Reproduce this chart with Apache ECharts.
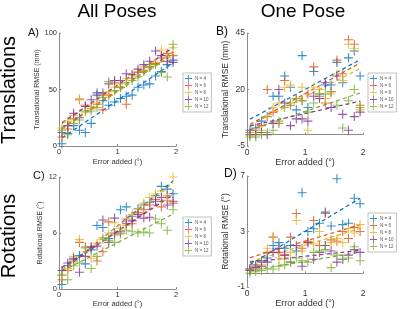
<!DOCTYPE html>
<html><head><meta charset="utf-8">
<script src="https://cdn.jsdelivr.net/npm/echarts@6/dist/echarts.min.js"></script>
<style>html,body{margin:0;padding:0;background:#fff}#c{width:400px;height:309px}</style>
</head><body><div id="c"></div>
<script>
var errorAdded = [0.05,0.15,0.25,0.35,0.45,0.55,0.65,0.75,0.85,0.95,1.05,1.15,1.25,1.35,1.45,1.55,1.65,1.75,1.85,1.95];
var seriesNames = ['N = 4','N = 6','N = 8','N = 10','N = 12'];
var colors = ['#0072BD','#D95319','#EDB120','#7E2F8E','#77AC30'];

// A) All poses, translational RMSE (mm)
var transAll_N4  = [2, 11, 18, 14, 12, 20, 47, 40, 36, 39, 42, 44, 45, 52, 54, 55, 62, 66, 72, 76];
var transAll_N6  = [8, 15, 24, 41, 36, 33, 37, 32, 45, 56, 52, 37, 60, 65, 67, 70, 73, 78, 82, 80];
var transAll_N8  = [16, 22, 27, 42, 30, 35, 38, 45, 48, 52, 55, 60, 63, 66, 70, 72, 74, 85, 78, 87];
var transAll_N10 = [12, 18, 29, 25, 35, 41, 45, 47, 55, 58, 58, 64, 63, 68, 72, 75, 84, 80, 75, 74];
var transAll_N12 = [14, 10, 20, 23, 31, 31, 34, 43, 57, 49, 52, 56, 58, 61, 66, 70, 72, 65, 61, 90];

// B) One pose, translational RMSE (mm)
var transOne_N4  = [2, 3, 6, 8, 17, 17, 26, 21, 11, 35, 12, 28, 18, 22, 22, 32, 23, 34, 37, 26];
var transOne_N6  = [1, 2, 4, 20, 10, 5, 24, 13, 16, 15, 18, 30, 17, 14, 19, 33, 27, 42, 40, 13];
var transOne_N8  = [0, 1, 2, 8, 12, 14, 21, 22, 16, 21, 2, 21, 20, 16, 18, 27, 24, 40, 38, 11];
var transOne_N10 = [0, 0, 1, 0, 5, 20, 14, 4, 7, 7, 6, 17, 16, 23, 12, 26, 9, 2, 8, 10];
var transOne_N12 = [-1, -1, 0, 1, 2, 6, 12, 14, 16, 15, 10, 14, 18, 18, 19, 13, 3, 15, 20, 12];

// C) All poses, rotational RMSE (deg)
var rotAll_N4  = [0.5, 2.5, 3.2, 3.6, 2.7, 4.2, 6.8, 6.6, 5.4, 6.0, 8.5, 8.8, 7.8, 8.6, 9.0, 9.3, 10.0, 11.0, 10.7, 10.2];
var rotAll_N6  = [1.0, 2.0, 3.0, 5.0, 4.5, 4.5, 3.0, 4.0, 7.2, 5.8, 6.0, 7.5, 7.0, 8.2, 8.5, 9.0, 9.6, 8.8, 10.0, 9.2];
var rotAll_N8  = [1.5, 2.2, 3.5, 5.3, 4.0, 3.3, 4.9, 5.3, 6.0, 7.1, 6.5, 6.8, 8.0, 8.6, 9.2, 9.8, 10.2, 10.5, 9.5, 12.0];
var rotAll_N10 = [2.0, 2.8, 3.3, 1.8, 3.5, 4.5, 4.6, 7.4, 5.0, 7.6, 6.2, 7.0, 7.3, 8.0, 7.6, 7.7, 9.4, 9.8, 9.0, 9.4];
var rotAll_N12 = [1.5, 1.0, 2.5, 2.8, 4.4, 2.2, 3.5, 5.5, 5.2, 5.0, 5.9, 6.3, 6.2, 6.0, 6.1, 6.0, 7.5, 7.0, 6.3, 8.5];

// D) One pose, rotational RMSE (deg)
var rotOne_N4  = [0.3, 0.6, 0.9, 1.1, 2.0, 2.2, 1.8, 2.0, 1.6, 5.8, 3.0, 3.2, 3.6, 4.4, 3.4, 6.8, 3.5, 3.6, 5.4, 5.0];
var rotOne_N6  = [0.3, 0.5, 0.8, 1.5, 2.6, 1.5, 1.3, 2.6, 4.3, 1.8, 2.3, 3.8, 2.0, 4.3, 2.4, 2.3, 3.0, 2.5, 3.3, 3.0];
var rotOne_N8  = [0.2, 0.4, 0.6, 1.8, 2.6, 1.1, 1.0, 1.5, 3.8, 1.6, 2.2, 2.1, 3.0, 2.0, 2.2, 2.5, 2.2, 3.2, 2.9, 3.5];
var rotOne_N10 = [0.2, 0.4, 0.5, 0.8, 1.5, 1.8, 1.3, 0.8, 2.0, 0.5, 2.2, 1.0, 1.5, 2.0, 1.6, 0.8, 1.0, 1.3, 1.7, 1.5];
var rotOne_N12 = [0.0, 0.1, 0.2, 0.3, 0.3, 0.5, 0.6, 0.8, 1.1, 0.9, 0.8, 1.5, 1.6, 1.7, 0.4, 1.3, 1.0, 1.1, 1.9, 0.9];

var xTicks = [0, 1, 2];
var yTicksA = [0, 50, 100];
var yTicksB = [-5, 20, 45];
var yTicksC = [0, 6, 12];
var yTicksD = [-1, 3, 7];

var panels = [
  {data:[transAll_N4,transAll_N6,transAll_N8,transAll_N10,transAll_N12], ticks:yTicksA,
   grid:{left:59, top:33, width:117, height:113}, yName:'Translational RMSE (mm)', nameFs:7, tickFs:7.5,
   letter:'A)', lx:28, ly:27, lfs:11, legend:{left:183, top:73}, legFs:4.5},
  {data:[transOne_N4,transOne_N6,transOne_N8,transOne_N10,transOne_N12], ticks:yTicksB,
   grid:{left:247, top:33, width:116, height:113}, yName:'Translational RMSE (mm)', nameFs:8.5, tickFs:8.5,
   letter:'B)', lx:216, ly:26, lfs:12, legend:{left:368, top:73}, legFs:4.5},
  {data:[rotAll_N4,rotAll_N6,rotAll_N8,rotAll_N10,rotAll_N12], ticks:yTicksC,
   grid:{left:59, top:177, width:117, height:113}, yName:'Rotational RMSE (°)', nameFs:7, tickFs:7.5,
   letter:'C)', lx:33, ly:170, lfs:11, legend:{left:183, top:217}, legFs:4.5},
  {data:[rotOne_N4,rotOne_N6,rotOne_N8,rotOne_N10,rotOne_N12], ticks:yTicksD,
   grid:{left:247, top:176, width:116, height:114}, yName:'Rotational RMSE (°)', nameFs:8.5, tickFs:8.5,
   letter:'D)', lx:224, ly:168, lfs:12, legend:{left:368, top:213}, legFs:4.5}
];

var plus = 'path://M4.4,0H5.6V4.4H10V5.6H5.6V10H4.4V5.6H0V4.4H4.4Z';
var font = 'Liberation Sans';

function fit(xs, ys) {
  var n = xs.length, sx=0, sy=0, sxx=0, sxy=0;
  for (var i=0;i<n;i++){sx+=xs[i];sy+=ys[i];sxx+=xs[i]*xs[i];sxy+=xs[i]*ys[i];}
  var b = (n*sxy - sx*sy)/(n*sxx - sx*sx), a = (sy - b*sx)/n;
  return [[xs[0], a+b*xs[0]],[xs[n-1], a+b*xs[n-1]]];
}

var grids=[], xAxes=[], yAxes=[], series=[], legends=[], graphics=[];
panels.forEach(function(p, gi){
  grids.push(p.grid);
  var axisLine = {show:true, lineStyle:{color:'#8c8c8c', width:1}};
  xAxes.push({type:'value', gridIndex:gi, min:0, max:2, interval:1,
    name:'Error added (°)', nameLocation:'middle', nameGap: gi<2?12:10,
    nameTextStyle:{fontSize:p.nameFs+0.5, color:'#333', fontFamily:font},
    axisLine:axisLine, axisTick:{show:true, inside:true, length:2, lineStyle:{color:'#8c8c8c'}},
    splitLine:{show:false}, axisLabel:{fontSize:p.tickFs, color:'#333', margin:2, fontFamily:font}});
  var lo=p.ticks[0], hi=p.ticks[2], step=p.ticks[1]-p.ticks[0];
  yAxes.push({type:'value', gridIndex:gi, min:lo, max:hi, interval:step,
    name:p.yName, nameLocation:'middle', nameGap: gi%2===0?15:17,
    nameTextStyle:{fontSize:p.nameFs, color:'#333', fontFamily:font},
    axisLine:axisLine, axisTick:{show:true, inside:true, length:2, lineStyle:{color:'#8c8c8c'}},
    splitLine:{show:false}, axisLabel:{fontSize:p.tickFs, color:'#333', margin:2, fontFamily:font}});
  p.data.forEach(function(vals, si){
    series.push({type:'scatter', name:seriesNames[si], xAxisIndex:gi, yAxisIndex:gi,
      symbol:plus, symbolSize:9, itemStyle:{color:colors[si]},
      data: errorAdded.map(function(x,i){return [x, vals[i]];}), z:3});
  });
  p.data.forEach(function(vals, si){
    series.push({type:'line', name:'fit '+seriesNames[si], xAxisIndex:gi, yAxisIndex:gi,
      symbol:'none', silent:true, lineStyle:{color:colors[si], type:[4,3], width:1.2},
      data: fit(errorAdded, vals), z:2});
  });
  legends.push({left:p.legend.left, top:p.legend.top, orient:'vertical', data:seriesNames,
    itemWidth:7, itemHeight:7, itemGap:0, padding:[2,3,2,2], borderColor:'#999', borderWidth:0.6,
    backgroundColor:'#fff', icon:plus, selectedMode:false,
    textStyle:{fontSize:p.legFs, color:'#555', fontFamily:font, padding:[0,0,0,-2]}});
  graphics.push({type:'text', left:p.lx, top:p.ly, style:{text:p.letter, fontSize:p.lfs, fill:'#111', font: p.lfs+'px "'+font+'"'}});
});

graphics.push({type:'text', x:117, y:2, style:{text:'All Poses', align:'center', font:'19px "Liberation Sans"', fill:'#000'}});
graphics.push({type:'text', x:303, y:2, style:{text:'One Pose', align:'center', font:'19px "Liberation Sans"', fill:'#000'}});
graphics.push({type:'text', x:-1, y:90, rotation:Math.PI/2, style:{text:'Translations', align:'center', verticalAlign:'top', font:'20px "Liberation Sans"', fill:'#000'}});
graphics.push({type:'text', x:-1, y:236, rotation:Math.PI/2, style:{text:'Rotations', align:'center', verticalAlign:'top', font:'20px "Liberation Sans"', fill:'#000'}});

var chart = echarts.init(document.getElementById('c'), null, {renderer:'canvas'});
chart.setOption({animation:false, backgroundColor:'#fff', grid:grids, xAxis:xAxes, yAxis:yAxes,
  series:series, legend:legends, graphic:graphics});
</script></body></html>
